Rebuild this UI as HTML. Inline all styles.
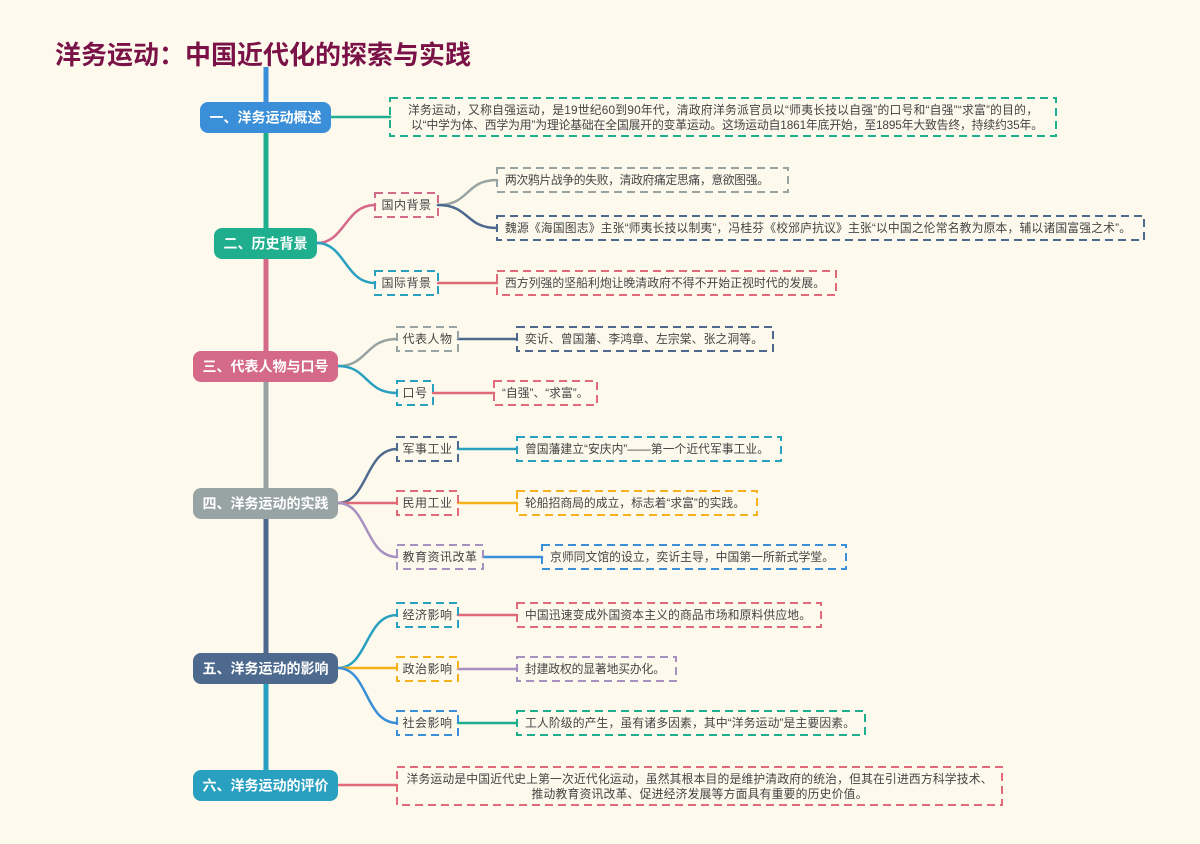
<!DOCTYPE html>
<html><head><meta charset="utf-8"><style>
html,body{margin:0;padding:0;background:#fdf9ec;}
svg{display:block;font-family:"Liberation Sans","Noto Sans CJK SC",sans-serif;}
.m{fill:#fff;font-size:14px;font-weight:bold;text-anchor:middle;dominant-baseline:central;}
.s{fill:#444;font-size:12px;text-anchor:middle;dominant-baseline:central;letter-spacing:0.5px;}
.d{fill:#444;font-size:11.8px;dominant-baseline:central;}
.b{fill:none;stroke-width:2;stroke-dasharray:8 5;}
.c{fill:none;stroke-width:2.5;stroke-linecap:round;}
</style></head><body>
<svg width="1200" height="844" viewBox="0 0 1200 844">
<rect width="1200" height="844" fill="#fdf9ec"/>
<text x="55" y="55" font-size="26" font-weight="bold" fill="#7a1248" dominant-baseline="central">洋务运动：中国近代化的探索与实践</text>
<g stroke-width="5">
<line x1="266" y1="67" x2="266" y2="118" stroke="#3a8fd8"/>
<line x1="266" y1="118" x2="266" y2="243" stroke="#1fae8e"/>
<line x1="266" y1="243" x2="266" y2="366" stroke="#d4698a"/>
<line x1="266" y1="366" x2="266" y2="503" stroke="#98a4a4"/>
<line x1="266" y1="503" x2="266" y2="668" stroke="#4d6a8e"/>
<line x1="266" y1="668" x2="266" y2="785" stroke="#2aa0c0"/>
</g>
<path class="c" d="M331 117 L390 117" stroke="#1fae8e" stroke-width="4"/>
<path class="c" d="M317 243 C345 243,345 205,375 205" stroke="#d4698a"/>
<path class="c" d="M317 243 C345 243,345 283,375 283" stroke="#2aa0c0"/>
<path class="c" d="M438 205 C470 205,465 180,497 180" stroke="#98a4a4"/>
<path class="c" d="M438 205 C470 205,465 228,497 228" stroke="#4d6a8e"/>
<path class="c" d="M438 283 L497 283" stroke="#e06a78" stroke-width="3.5"/>
<path class="c" d="M338 366 C368 366,365 339,397 339" stroke="#98a4a4"/>
<path class="c" d="M338 366 C368 366,365 393,397 393" stroke="#2aa0c0"/>
<path class="c" d="M458 339 L517 339" stroke="#4d6a8e" stroke-width="3.5"/>
<path class="c" d="M433 393 L494 393" stroke="#e06a78" stroke-width="3.5"/>
<path class="c" d="M338 503 C368 503,365 449,397 449" stroke="#4d6a8e"/>
<path class="c" d="M338 503 L397 503" stroke="#e06a78"/>
<path class="c" d="M338 503 C368 503,365 557,397 557" stroke="#a890c0"/>
<path class="c" d="M458 449 L517 449" stroke="#2aa0c0" stroke-width="3.5"/>
<path class="c" d="M458 503 L517 503" stroke="#f5b21c" stroke-width="3.5"/>
<path class="c" d="M483 557 L542 557" stroke="#3a8fd8" stroke-width="3.5"/>
<path class="c" d="M338 668 C368 668,365 615,397 615" stroke="#2aa0c0"/>
<path class="c" d="M338 668 L397 668" stroke="#f5b21c"/>
<path class="c" d="M338 668 C368 668,365 723,397 723" stroke="#3a8fd8"/>
<path class="c" d="M458 615 L517 615" stroke="#e06a78" stroke-width="3.5"/>
<path class="c" d="M458 669 L517 669" stroke="#a890c0" stroke-width="3.5"/>
<path class="c" d="M458 723 L517 723" stroke="#1fae8e" stroke-width="3.5"/>
<path class="c" d="M338 785 L397 785" stroke="#e06a78" stroke-width="4"/>
<rect x="200" y="102" width="131" height="31" rx="8" fill="#3a8fd8"/><text class="m" x="265.5" y="117.5">一、洋务运动概述</text>
<rect x="214" y="228" width="103" height="31" rx="8" fill="#1fae8e"/><text class="m" x="265.5" y="243.5">二、历史背景</text>
<rect x="193" y="351" width="145" height="31" rx="8" fill="#d4698a"/><text class="m" x="265.5" y="366.5">三、代表人物与口号</text>
<rect x="193" y="488" width="145" height="31" rx="8" fill="#98a4a4"/><text class="m" x="265.5" y="503.5">四、洋务运动的实践</text>
<rect x="193" y="653" width="145" height="31" rx="8" fill="#4d6a8e"/><text class="m" x="265.5" y="668.5">五、洋务运动的影响</text>
<rect x="193" y="770" width="145" height="31" rx="8" fill="#2aa0c0"/><text class="m" x="265.5" y="785.5">六、洋务运动的评价</text>
<rect class="b" x="375" y="193" width="63" height="24" stroke="#d4698a"/><text class="s" x="406.5" y="205">国内背景</text>
<rect class="b" x="375" y="271" width="63" height="24" stroke="#2aa0c0"/><text class="s" x="406.5" y="283">国际背景</text>
<rect class="b" x="397" y="327" width="61" height="24" stroke="#98a4a4"/><text class="s" x="427.5" y="339">代表人物</text>
<rect class="b" x="397" y="381" width="36" height="24" stroke="#2aa0c0"/><text class="s" x="415" y="393">口号</text>
<rect class="b" x="397" y="437" width="61" height="24" stroke="#4d6a8e"/><text class="s" x="427.5" y="449">军事工业</text>
<rect class="b" x="397" y="491" width="61" height="24" stroke="#e06a78"/><text class="s" x="427.5" y="503">民用工业</text>
<rect class="b" x="397" y="545" width="86" height="24" stroke="#a890c0"/><text class="s" x="440" y="557">教育资讯改革</text>
<rect class="b" x="397" y="603" width="61" height="24" stroke="#2aa0c0"/><text class="s" x="427.5" y="615">经济影响</text>
<rect class="b" x="397" y="657" width="61" height="24" stroke="#f5b21c"/><text class="s" x="427.5" y="669">政治影响</text>
<rect class="b" x="397" y="711" width="61" height="24" stroke="#3a8fd8"/><text class="s" x="427.5" y="723">社会影响</text>
<rect class="b" x="390" y="98" width="666" height="38" stroke="#1fae8e"/>
<text class="d" x="723" y="110" text-anchor="middle" textLength="630" lengthAdjust="spacing">洋务运动，又称自强运动，是19世纪60到90年代，清政府洋务派官员以“师夷长技以自强”的口号和“自强”“求富”的目的，</text>
<text class="d" x="727" y="125" text-anchor="middle" textLength="632" lengthAdjust="spacing">以“中学为体、西学为用”为理论基础在全国展开的变革运动。这场运动自1861年底开始，至1895年大致告终，持续约35年。</text>
<rect class="b" x="497" y="168" width="291" height="24" stroke="#98a4a4"/><text class="d" x="505" y="180" textLength="264" lengthAdjust="spacing">两次鸦片战争的失败，清政府痛定思痛，意欲图强。</text>
<rect class="b" x="497" y="216" width="647" height="24" stroke="#4d6a8e"/><text class="d" x="505" y="228" textLength="626" lengthAdjust="spacing">魏源《海国图志》主张“师夷长技以制夷”，冯桂芬《校邠庐抗议》主张“以中国之伦常名教为原本，辅以诸国富强之术”。</text>
<rect class="b" x="497" y="271" width="339" height="24" stroke="#e06a78"/><text class="d" x="505" y="283" textLength="320" lengthAdjust="spacing">西方列强的坚船利炮让晚清政府不得不开始正视时代的发展。</text>
<rect class="b" x="517" y="327" width="256" height="24" stroke="#4d6a8e"/><text class="d" x="525" y="339" textLength="238" lengthAdjust="spacing">奕䜣、曾国藩、李鸿章、左宗棠、张之洞等。</text>
<rect class="b" x="494" y="381" width="103" height="24" stroke="#e06a78"/><text class="d" x="502" y="393">“自强”、“求富”。</text>
<rect class="b" x="517" y="437" width="264" height="24" stroke="#2aa0c0"/><text class="d" x="525" y="449" textLength="244" lengthAdjust="spacing">曾国藩建立“安庆内”——第一个近代军事工业。</text>
<rect class="b" x="517" y="491" width="240" height="24" stroke="#f5b21c"/><text class="d" x="525" y="503" textLength="220" lengthAdjust="spacing">轮船招商局的成立，标志着“求富”的实践。</text>
<rect class="b" x="542" y="545" width="304" height="24" stroke="#3a8fd8"/><text class="d" x="550" y="557" textLength="284" lengthAdjust="spacing">京师同文馆的设立，奕䜣主导，中国第一所新式学堂。</text>
<rect class="b" x="517" y="603" width="304" height="24" stroke="#e06a78"/><text class="d" x="525" y="615" textLength="286" lengthAdjust="spacing">中国迅速变成外国资本主义的商品市场和原料供应地。</text>
<rect class="b" x="517" y="657" width="159" height="24" stroke="#a890c0"/><text class="d" x="525" y="669" textLength="140" lengthAdjust="spacing">封建政权的显著地买办化。</text>
<rect class="b" x="517" y="711" width="348" height="24" stroke="#1fae8e"/><text class="d" x="525" y="723" textLength="330" lengthAdjust="spacing">工人阶级的产生，虽有诸多因素，其中“洋务运动”是主要因素。</text>
<rect class="b" x="397" y="767" width="605" height="38" stroke="#e06a78"/>
<text class="d" x="699.5" y="779" text-anchor="middle" textLength="586" lengthAdjust="spacing">洋务运动是中国近代史上第一次近代化运动，虽然其根本目的是维护清政府的统治，但其在引进西方科学技术、</text>
<text class="d" x="699.5" y="794" text-anchor="middle" textLength="336" lengthAdjust="spacing">推动教育资讯改革、促进经济发展等方面具有重要的历史价值。</text>
</svg>
</body></html>
